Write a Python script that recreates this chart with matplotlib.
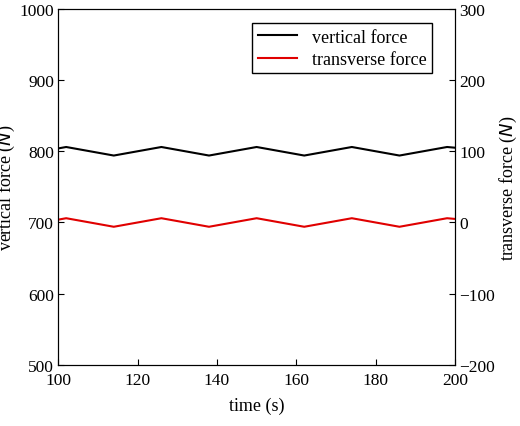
import matplotlib
matplotlib.use('Agg')
import matplotlib.pyplot as plt

plt.rcParams['font.family'] = ['Liberation Serif', 'DejaVu Serif']
plt.rcParams['font.size'] = 13

t = [100, 102, 114, 126, 138, 150, 162, 174, 186, 198, 200]
vertical = [804, 806, 794, 806, 794, 806, 794, 806, 794, 806, 805]
transverse = [4, 6, -6, 6, -6, 6, -6, 6, -6, 6, 5]

fig = plt.figure(figsize=(5.2, 4.27), dpi=100)
ax = fig.add_axes([0.112, 0.143, 0.763, 0.834])
ax2 = ax.twinx()

l1, = ax.plot(t, vertical, color='black', lw=1.5, label='vertical force')
l2, = ax2.plot(t, transverse, color='#e00000', lw=1.5, label='transverse force')

ax.set_xlim(100, 200)
ax.set_ylim(500, 1000)
ax2.set_ylim(-200, 300)
ax.set_xticks(range(100, 201, 20))
ax.set_yticks(range(500, 1001, 100))
ax2.set_yticks(range(-200, 301, 100))
ax2.set_yticklabels(['\u2212200', '\u2212100', '0', '100', '200', '300'])
ax.set_xlabel('time (s)', labelpad=6)
ax.set_ylabel('vertical force ($\\it{N}$)', labelpad=2)
ax2.set_ylabel('transverse force ($\\it{N}$)', labelpad=2)
for a in (ax, ax2):
    a.tick_params(direction='in', length=4, pad=3, labelsize=12.5)
ax.tick_params(axis='x', pad=5)
ax.legend(handles=[l1, l2], loc='upper right', bbox_to_anchor=(0.965, 0.985),
          fancybox=False, edgecolor='black', framealpha=1, fontsize=13,
          handlelength=2.2, borderpad=0.3, labelspacing=0.3)

fig.savefig('out.png', dpi=100)
